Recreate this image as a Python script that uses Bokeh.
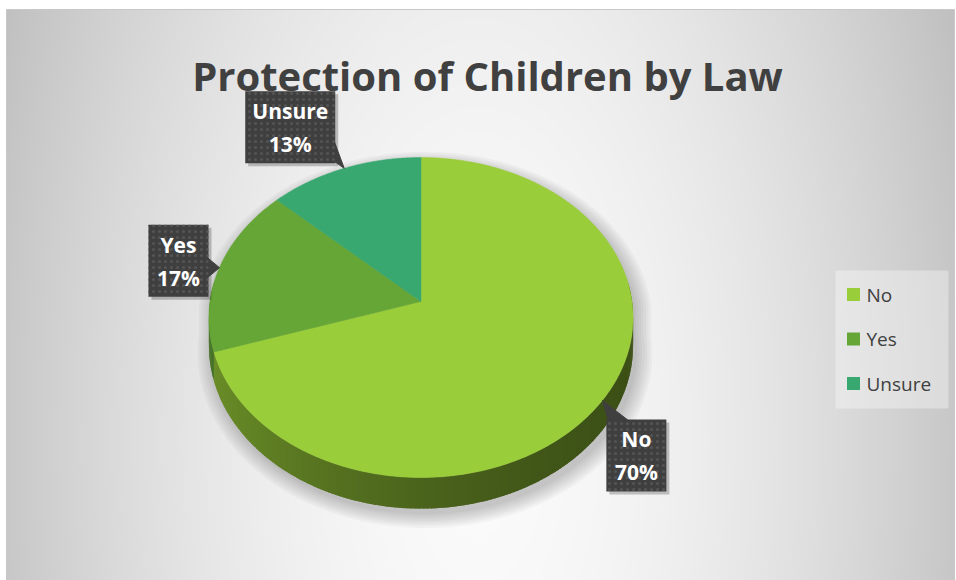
import numpy as np
from bokeh.plotting import figure
from bokeh.models import Range1d
from bokeh.core.properties import value
from bokeh.embed import file_html
from bokeh.resources import INLINE

# ---------------- data ----------------
categories = ["No", "Yes", "Unsure"]
shares = [70, 17, 13]
top_colors = ["#9ACD3A", "#65A637", "#38A870"]
title_text = "Protection of Children by Law"

# ---------------- layout constants ----------------
W, H = 956, 580
CX, CY = 420.5, 301.0      # apex of pie (screen px)
R, RY, K = 211.0, 158.4, 0.10
DEPTH = 28.0
FONT = value("Open Sans")
label_offsets = [(34, 55), (-41, -7), (-54, -41)]

def sy(y):
    return H - np.asarray(y, dtype=float)

def proj(theta, drop=0.0):
    u = np.cos(theta); v = np.sin(theta); w = 1 + K * v
    return CX + R * u / w, CY - RY * v / w + drop / w

def shade(hexc, f):
    r, g, b = (int(hexc[i:i + 2], 16) for i in (1, 3, 5))
    return "#%02x%02x%02x" % tuple(max(0, min(255, int(c * f))) for c in (r, g, b))

p = figure(width=W, height=H, x_range=Range1d(0, W), y_range=Range1d(0, H),
           output_backend="svg", toolbar_location=None, min_border=0, title=None)
p.axis.visible = False
p.grid.visible = False
p.outline_line_color = None
p.background_fill_color = "white"
p.border_fill_color = "white"

# ---------------- background gradient ----------------
x0, y0, x1, y1 = 6, 9, 954, 580
gw, gh = (x1 - x0) // 2, (y1 - y0) // 2
xs_g = x0 + (np.arange(gw) + 0.5) * 2
ys_g = y1 - (np.arange(gh) + 0.5) * 2          # row 0 = bottom
XX, YY = np.meshgrid(xs_g, ys_g)
d = np.sqrt(((XX - 478) / 480) ** 2 + ((YY - 440) / 1000) ** 2)
val = np.clip(251 - 52 * d ** 1.7, 190, 252).astype(np.uint8)
img = np.empty((gh, gw), dtype=np.uint32)
view = img.view(dtype=np.uint8).reshape((gh, gw, 4))
view[:, :, 0] = val; view[:, :, 1] = val; view[:, :, 2] = val; view[:, :, 3] = 255
p.image_rgba(image=[img], x=x0, y=float(sy(y1)), dw=x1 - x0, dh=y1 - y0)
p.quad(left=x0, right=x1, bottom=float(sy(y1)), top=float(sy(y0)),
       fill_color=None, line_color="#c8c8c8", line_width=1)

# ---------------- pie geometry ----------------
cum = np.concatenate([[0], np.cumsum(shares)]) / float(sum(shares)) * 2 * np.pi

# shadow
th_front = np.linspace(np.pi, 2 * np.pi, 90)
th_back = np.linspace(0, np.pi, 90)
fx, fy = proj(th_front, DEPTH)
bx, by = proj(th_back)
sil_x = np.concatenate([fx, bx]); sil_y = np.concatenate([fy, by])
for i in range(7):
    s = 1.0 + 0.012 * i
    shx = CX + (sil_x - CX) * s + 4
    shy = (CY + 20) + (sil_y - (CY + 20)) * s + 6
    p.patch(shx, sy(shy), fill_color="black", fill_alpha=0.03, line_color=None)

# side quads (overlapping slightly to avoid seams)
side_xs, side_ys, side_cols = [], [], []
step = np.radians(1.0)
over = np.radians(0.8)
for k in range(len(categories)):
    a = cum[k]
    while a < cum[k + 1] - 1e-9:
        b = min(a + step, cum[k + 1])
        t1, t2 = np.pi / 2 - a, np.pi / 2 - min(b + over, cum[k + 1])
        tm = np.pi / 2 - (a + b) / 2
        if np.sin(tm) < 0.12:
            p1 = proj(t1); p2 = proj(t2)
            p3 = proj(t2, DEPTH); p4 = proj(t1, DEPTH)
            side_xs.append([p1[0], p2[0], p3[0], p4[0]])
            side_ys.append(list(sy([p1[1], p2[1], p3[1], p4[1]])))
            u = np.cos(tm)
            f = 0.49 - 0.155 * u + 0.055 * u * u
            side_cols.append(shade(top_colors[k], f))
        a = b
p.patches(side_xs, side_ys, fill_color=side_cols, line_color=None)

# top wedges
for k in range(len(categories)):
    aa = np.linspace(cum[k], cum[k + 1], max(3, int((cum[k + 1] - cum[k]) / np.radians(0.5))))
    px, py = proj(np.pi / 2 - aa)
    wx = np.concatenate([[CX], px]); wy = np.concatenate([[CY], py])
    p.patch(wx, sy(wy), fill_color=top_colors[k], line_color=top_colors[k], line_width=0.5)

# ---------------- data labels ----------------
for k, cat in enumerate(categories):
    am = (cum[k] + cum[k + 1]) / 2
    tx, ty = proj(np.pi / 2 - am)
    bxc, byc = tx + label_offsets[k][0], ty + label_offsets[k][1]
    pct = f"{shares[k]}%"
    hw = (10 * max(len(cat), len(pct)) + 30) / 2
    hh = 36
    # pointer
    dxn = (tx - bxc) / hw; dyn = (ty - byc) / hh
    if abs(dxn) > abs(dyn):
        ex = bxc + np.sign(dxn) * hw
        yc = min(max(ty, byc - hh + 12), byc + hh - 12)
        tri_x = [ex - np.sign(dxn) * 1, ex - np.sign(dxn) * 1, tx]
        tri_y = [yc - 10, yc + 10, ty]
    else:
        ey = byc + np.sign(dyn) * hh
        xc = min(max(tx, bxc - hw + 12), bxc + hw - 12)
        tri_x = [xc - 10, xc + 10, tx]
        tri_y = [ey - np.sign(dyn) * 1, ey - np.sign(dyn) * 1, ty]
    # shadow
    p.rect(x=bxc + 3, y=float(sy(byc + 3)), width=2 * hw, height=2 * hh,
           fill_color="black", fill_alpha=0.22, line_color=None)
    p.patch(tri_x, sy(tri_y), fill_color="#3f3f3f", line_color="#3f3f3f")
    p.rect(x=bxc, y=float(sy(byc)), width=2 * hw, height=2 * hh,
           fill_color="#3f3f3f", line_color=None,
           hatch_pattern="dot", hatch_color="#545454", hatch_scale=6, hatch_weight=1.3)
    p.text(x=[bxc], y=[float(sy(byc - 16))], text=[cat], text_font=FONT,
           text_font_style="bold", text_font_size="21px", text_color="white",
           text_align="center", text_baseline="middle")
    p.text(x=[bxc], y=[float(sy(byc + 17))], text=[pct], text_font=FONT,
           text_font_style="bold", text_font_size="21px", text_color="white",
           text_align="center", text_baseline="middle")

# ---------------- title ----------------
p.text(x=[487], y=[float(sy(75))], text=[title_text], text_font=FONT,
       text_font_style="bold", text_font_size="40px", text_color="#404040",
       text_align="center", text_baseline="alphabetic")

# ---------------- legend ----------------
lx0, ly0, lx1, ly1 = 835, 270, 948, 408
p.quad(left=lx0, right=lx1, bottom=float(sy(ly1)), top=float(sy(ly0)),
       fill_color="white", fill_alpha=0.35, line_color=None)
for k, cat in enumerate(categories):
    yc = 294 + 44.5 * k
    p.rect(x=853, y=float(sy(yc)), width=13, height=13, fill_color=top_colors[k], line_color=None)
    p.text(x=[866], y=[float(sy(yc))], text=[cat], text_font=FONT,
           text_font_size="19px", text_color="#404040",
           text_align="left", text_baseline="middle")

open("out.html", "w").write(file_html(p, INLINE))
